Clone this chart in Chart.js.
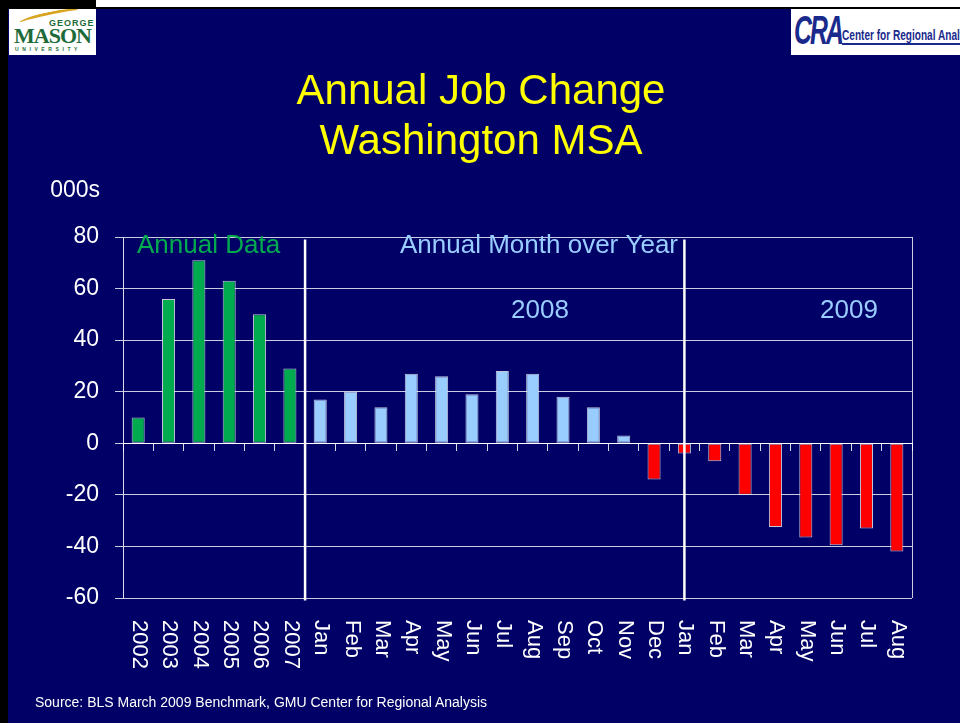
<!DOCTYPE html>
<html>
<head>
<meta charset="utf-8">
<script src="https://cdn.jsdelivr.net/npm/chart.js@4/dist/chart.umd.min.js"></script>
<style>
  body { margin: 0; background: #000; width: 960px; height: 723px; overflow: hidden; position: relative; font-family: "Liberation Sans", Arial, sans-serif; }
  #topstrip { position: absolute; left: 96px; top: 0; width: 864px; height: 7px; background: #fff; }
  #slide { position: absolute; left: 8px; top: 9px; width: 952px; height: 714px; background: #000066; }
  #chart { position: absolute; left: 0; top: 0; }
  .txt { position: absolute; white-space: nowrap; }
  #title { left: 0; width: 962px; top: 65px; text-align: center; color: #ffff00; font-size: 42px; line-height: 50px; }
  #source { left: 35px; top: 694px; color: #fff; font-size: 14px; }
  #mason { position: absolute; left: 9px; top: 9px; width: 87px; height: 46px; background: #fff; overflow: hidden; }
  #cra { position: absolute; left: 791px; top: 9px; width: 169px; height: 46px; background: #fff; overflow: hidden; }
</style>
</head>
<body>
<div id="topstrip"></div>
<div id="slide"></div>
<div id="mason">
  <div class="txt" style="left:10px;top:3px;width:60px;height:6px;border-top:3px solid #d9a520;border-radius:60% 60% 0 0;transform:rotate(-12deg);"></div>
  <div class="txt" style="left:40px;top:9px;color:#1e6b3a;font-size:9px;font-weight:bold;letter-spacing:1px;">GEORGE</div>
  <div class="txt" style="left:5px;top:14px;color:#1e6b3a;font-size:22px;font-family:'Liberation Serif',serif;font-weight:bold;letter-spacing:-1px;">MASON</div>
  <div class="txt" style="left:6px;top:37px;color:#1e6b3a;font-size:5px;font-weight:bold;letter-spacing:3.6px;">UNIVERSITY</div>
</div>
<div id="cra">
  <div class="txt" style="left:3px;top:-1px;color:#1a2a8c;font-size:40px;font-weight:bold;font-style:italic;letter-spacing:-3px;transform:scaleX(0.62);transform-origin:left top;">CRA</div>
  <div class="txt" style="left:51px;top:18px;color:#1a2a8c;font-size:14px;font-weight:bold;transform:scaleX(0.72);transform-origin:left top;border-bottom:2px solid #1a2a8c;">Center for Regional Analysis</div>
</div>
<canvas id="chart" width="960" height="723"></canvas>
<div class="txt" id="title">Annual Job Change<br>Washington MSA</div>
<div class="txt" id="source">Source: BLS March 2009 Benchmark, GMU Center for Regional Analysis</div>

<script>
// categories
const annualYears = ['2002', '2003', '2004', '2005', '2006', '2007'];
const months2008 = ['Jan', 'Feb', 'Mar', 'Apr', 'May', 'Jun', 'Jul', 'Aug', 'Sep', 'Oct', 'Nov', 'Dec'];
const months2009 = ['Jan', 'Feb', 'Mar', 'Apr', 'May', 'Jun', 'Jul', 'Aug'];

// job change, thousands
const annualValues = [10, 56, 71, 63, 50, 29];
const values2008 = [17, 20, 14, 27, 26, 19, 28, 27, 18, 14, 3, -14];
const values2009 = [-4, -7, -20, -32.5, -36.5, -39.5, -33, -42];

// y axis ticks
const yMin = -60;
const yMax = 80;
const yStep = 20;

const labels = annualYears.concat(months2008, months2009);
const values = annualValues.concat(values2008, values2009);

const colors = values.map((v, i) => {
  if (i < annualYears.length) return '#00aa4f';
  return v < 0 ? '#ff0000' : '#99ccff';
});

const FONT = '"Liberation Sans", Arial, sans-serif';

// slide decorations drawn against the scales
const decorPlugin = {
  id: 'decor',
  afterDraw(chart) {
    const { ctx, chartArea, scales } = chart;
    const x = scales.x;
    const y = scales.y;
    ctx.save();

    // right edge of plot box
    ctx.strokeStyle = 'rgba(255,255,255,0.8)';
    ctx.lineWidth = 1;
    ctx.beginPath();
    ctx.moveTo(Math.round(chartArea.right) + 0.5, chartArea.top);
    ctx.lineTo(Math.round(chartArea.right) + 0.5, chartArea.bottom);
    ctx.stroke();

    // divider lines
    ctx.strokeStyle = '#ffffff';
    ctx.lineWidth = 2.5;
    const yTop = y.getPixelForValue(79);
    const yBot = y.getPixelForValue(-61);
    [annualYears.length - 0.5, annualYears.length + months2008.length].forEach(idx => {
      const px = x.getPixelForValue(idx);
      ctx.beginPath();
      ctx.moveTo(px, yTop);
      ctx.lineTo(px, yBot);
      ctx.stroke();
    });

    // rotated category labels, reading top to bottom
    ctx.fillStyle = '#ffffff';
    ctx.font = '22px ' + FONT;
    ctx.textAlign = 'left';
    ctx.textBaseline = 'middle';
    labels.forEach((lab, i) => {
      ctx.save();
      ctx.translate(x.getPixelForValue(i) + 1, chartArea.bottom + 22);
      ctx.rotate(Math.PI / 2);
      ctx.fillText(lab, 0, 0);
      ctx.restore();
    });

    // axis unit
    ctx.textAlign = 'right';
    ctx.textBaseline = 'alphabetic';
    ctx.font = '23px ' + FONT;
    ctx.fillText('000s', 100, 197);

    // group notes
    ctx.textAlign = 'left';
    ctx.font = '26px ' + FONT;
    ctx.fillStyle = '#00aa4f';
    ctx.fillText('Annual Data', 137, 253);
    ctx.fillStyle = '#99ccff';
    ctx.fillText('Annual Month over Year', 400, 253);
    ctx.textAlign = 'center';
    ctx.fillText('2008', 540, 318);
    ctx.fillText('2009', 849, 318);

    ctx.restore();
  }
};

new Chart(document.getElementById('chart'), {
  type: 'bar',
  data: {
    labels: labels,
    datasets: [{
      data: values,
      backgroundColor: colors,
      borderColor: 'rgba(230,230,240,0.85)',
      borderWidth: 1,
      borderSkipped: false,
      barPercentage: 0.43,
      categoryPercentage: 1
    }]
  },
  options: {
    responsive: false,
    animation: false,
    layout: { padding: { left: 0, right: 48, top: 237, bottom: 0 } },
    plugins: {
      legend: { display: false },
      title: { display: false },
      tooltip: { enabled: false }
    },
    scales: {
      x: {
        position: 'bottom',
        offset: true,
        grid: { display: false },
        border: { display: false },
        ticks: { display: false },
        afterFit(scale) { scale.height = 125; }
      },
      x2: {
        type: 'category',
        position: { y: 0 },
        offset: true,
        grid: { offset: true, drawOnChartArea: false, drawTicks: true, tickLength: 7, color: 'rgba(255,255,255,0.85)', lineWidth: 1 },
        border: { display: true, color: '#ffffff', width: 1 },
        ticks: { display: false },
        afterFit(scale) { scale.height = 0; }
      },
      y: {
        min: yMin,
        max: yMax,
        ticks: {
          stepSize: yStep,
          color: '#ffffff',
          font: { family: FONT, size: 23 },
          padding: 16
        },
        grid: { color: 'rgba(255,255,255,0.8)', lineWidth: 1, tickLength: 8 },
        border: { display: true, color: 'rgba(255,255,255,0.85)', width: 1 },
        afterFit(scale) { scale.width = 123; }
      }
    }
  },
  plugins: [decorPlugin]
});
</script>
</body>
</html>
